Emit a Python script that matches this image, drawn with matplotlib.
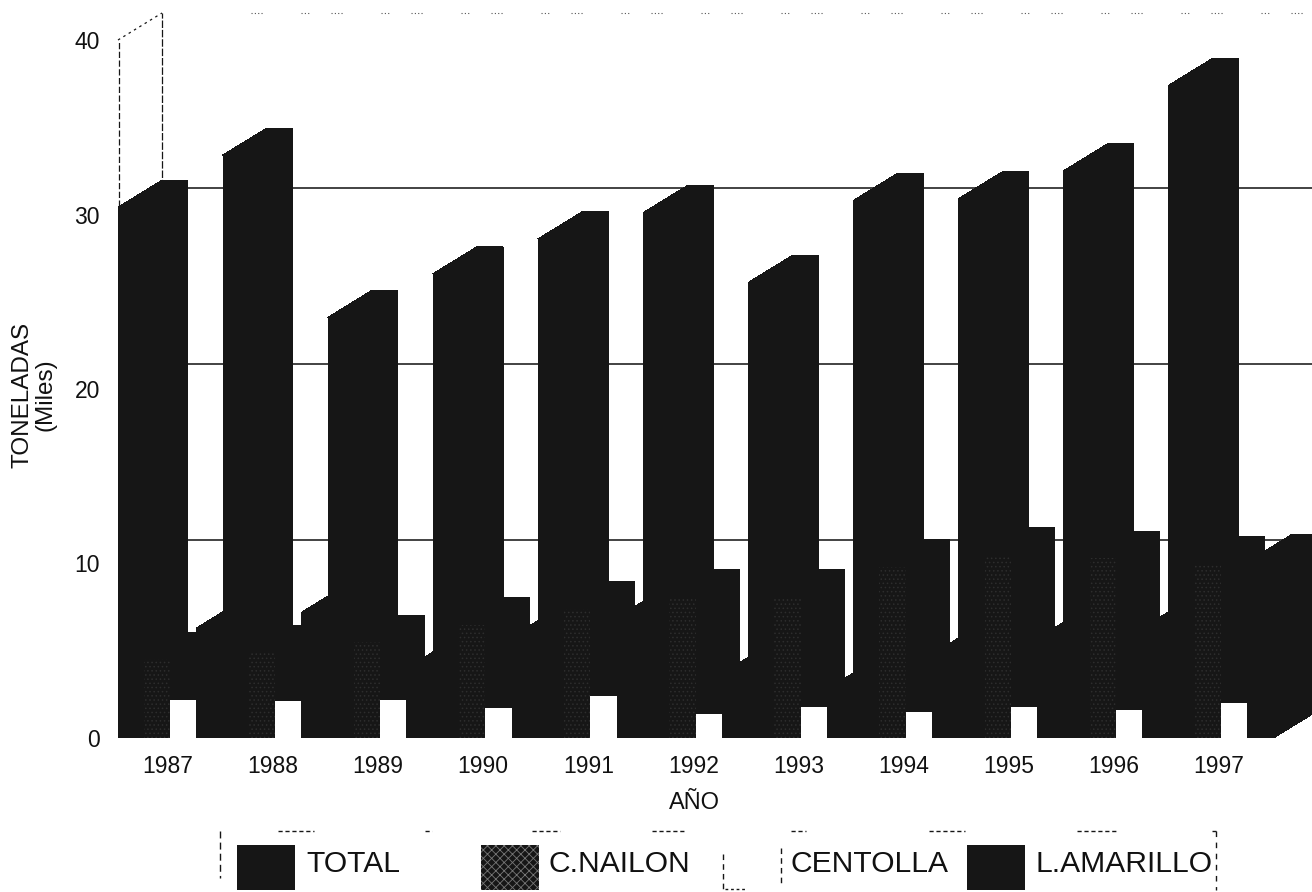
import matplotlib
matplotlib.use("Agg")
import matplotlib.pyplot as plt

plt.rcParams['font.family'] = ['Liberation Sans', 'DejaVu Sans']
plt.rcParams['hatch.linewidth'] = 0.6

years = ['1987', '1988', '1989', '1990', '1991', '1992', '1993', '1994', '1995', '1996', '1997']
total = [30.4, 33.4, 24.1, 26.6, 28.6, 30.1, 26.1, 30.8, 30.9, 32.5, 37.4]
nailon = [4.5, 4.9, 5.5, 6.5, 7.4, 8.1, 8.1, 9.8, 10.5, 10.3, 10.0]
centolla = [2.2, 2.1, 2.2, 1.7, 2.4, 1.4, 1.8, 1.5, 1.8, 1.6, 2.0]
amarillo = [6.3, 7.2, 4.0, 5.8, 6.9, 3.7, 2.8, 4.8, 5.7, 6.3, 10.1]
yticks = [0, 10, 20, 30, 40]
legend_labels = ['TOTAL', 'C.NAILON', 'CENTOLLA', 'L.AMARILLO']

W, H = 1312, 892
BLACK = '#161616'
PX_UNIT = 17.45      # pixels per ton-thousand
PX_YEAR = 105.1      # pixels per year
X0 = 170             # pixel of first cluster centre
DX = 44 / PX_YEAR    # depth offset
DY = 27 / PX_UNIT
BW = 0.25

fig = plt.figure(figsize=(W / 100, H / 100), dpi=100, facecolor='white')
ax = fig.add_axes([118 / W, (H - 738) / H, (W - 118) / W, 738 / H])
ax.set_xlim((118 - X0) / PX_YEAR, (W - X0) / PX_YEAR)
ax.set_ylim(0, 738 / PX_UNIT)
for s in ax.spines.values():
    s.set_visible(False)
ax.patch.set_alpha(0)

# back-wall grid lines (back wall sits above the front plane) and dashed wall
for v, lift in zip(yticks[1:4], [1.35, 1.43, 1.52]):
    ax.plot([ax.get_xlim()[0] + DX, ax.get_xlim()[1]], [v + lift, v + lift],
            color='#222222', lw=1.2, zorder=1)
xl = ax.get_xlim()[0]
ax.plot([xl + 0.005, xl + 0.005], [30, 40], color=BLACK, lw=0.9, ls=(0, (5, 2)), clip_on=False, zorder=1)
ax.plot([xl, xl + DX], [40, 40 + DY], color=BLACK, lw=0.9, ls=(0, (2, 3)), clip_on=False, zorder=1)
ax.plot([xl + DX, xl + DX], [30, 40 + DY], color=BLACK, lw=0.9, ls=(0, (6, 1.5)), clip_on=False, zorder=1)
ax.plot([xl + DX + 0.85, ax.get_xlim()[1]], [40 + DY, 40 + DY], color='#555555', lw=0.8,
        ls=(0, (1, 2, 1, 2, 1, 2, 1, 35, 1, 2, 1, 2, 1, 20)), clip_on=False, zorder=1)


def bar3d(x, v, face, hatch=None, z=2):
    x1 = x + BW
    ax.fill([x, x1, x1 + DX, x + DX], [v, v, v + DY, v + DY], color=BLACK, lw=0, aa=False, zorder=z)
    ax.fill([x1, x1 + DX, x1 + DX, x1], [0, DY, v + DY, v], color=BLACK, lw=0, aa=False, zorder=z)
    if face == 'white':
        ax.fill([x, x1, x1, x], [0, 0, v, v], color='white', lw=0, aa=False, zorder=z)
    else:
        ax.fill([x, x1, x1, x], [0, 0, v, v], color=BLACK, lw=0, aa=False, zorder=z)
        if hatch:
            ax.fill([x, x1, x1, x], [0, 0, v, v], facecolor='none', edgecolor='#2d2d2d',
                    hatch=hatch, lw=0, zorder=z)


z = 2
for i in range(len(years)):
    bar3d(i - 2 * BW, total[i], BLACK, z=z)
    bar3d(i - BW, nailon[i], BLACK, hatch='....', z=z + 0.1)
    bar3d(i, centolla[i], 'white', z=z + 0.2)
    bar3d(i + BW, amarillo[i], BLACK, z=z + 0.3)
    z += 1

ax.set_xticks([i - 0.02 for i in range(len(years))], years)
ax.set_yticks(yticks, [str(v) for v in yticks])
ax.tick_params(axis='x', length=0, pad=12.5, labelsize=16.5, colors='#111111')
ax.tick_params(axis='y', length=0, pad=13, labelsize=16.5, colors='#111111')

fig.text(694 / W, 1 - 803 / H, 'AÑO', ha='center', va='center', fontsize=17, color='#111111')
fig.text(34 / W, 1 - 395 / H, 'TONELADAS\n(Miles)', rotation=90, ha='center', va='center',
         fontsize=17.5, color='#111111', linespacing=1.0, multialignment='center')

# legend drawn in a full-figure pixel overlay
ov = fig.add_axes([0, 0, 1, 1], facecolor='none')
ov.set_xlim(0, W)
ov.set_ylim(H, 0)
ov.axis('off')
swatches = [237, 481, 723, 967]
text_x = [306, 549, 790, 1035]
for k, (sx, tx, lab) in enumerate(zip(swatches, text_x, legend_labels)):
    if k == 0 or k == 3:
        ov.fill([sx, sx + 58, sx + 58, sx], [845, 845, 890, 890], color=BLACK, lw=0)
    elif k == 1:
        ov.fill([sx, sx + 58, sx + 58, sx], [845, 845, 890, 890], facecolor=BLACK,
                edgecolor='#777777', hatch='xxxx', lw=0)
    else:
        ov.plot([sx, sx], [854, 889], color=BLACK, lw=1, ls=(0, (4, 3)))
        ov.plot([sx + 58, sx + 58], [848, 884], color=BLACK, lw=1, ls=(0, (4, 3)))
        ov.plot([sx + 2, sx + 22], [889, 889], color=BLACK, lw=1, ls=(0, (2, 2)))
    ov.text(tx, 864, lab, ha='left', va='center', fontsize=21.6, color='#111111')
ov.plot([220, 220], [831, 878], color=BLACK, lw=1, ls=(0, (5, 3)))
ov.plot([1216, 1216], [831, 890], color=BLACK, lw=1, ls=(0, (4, 4)))
for a, b in [(278, 314), (425, 432), (532, 560), (652, 686), (791, 806), (929, 965), (1077, 1118), (1212, 1216)]:
    ov.plot([a, b], [831, 831], color=BLACK, lw=1, ls=(0, (3, 2)))

fig.savefig('out.png', dpi=100, facecolor='white')
